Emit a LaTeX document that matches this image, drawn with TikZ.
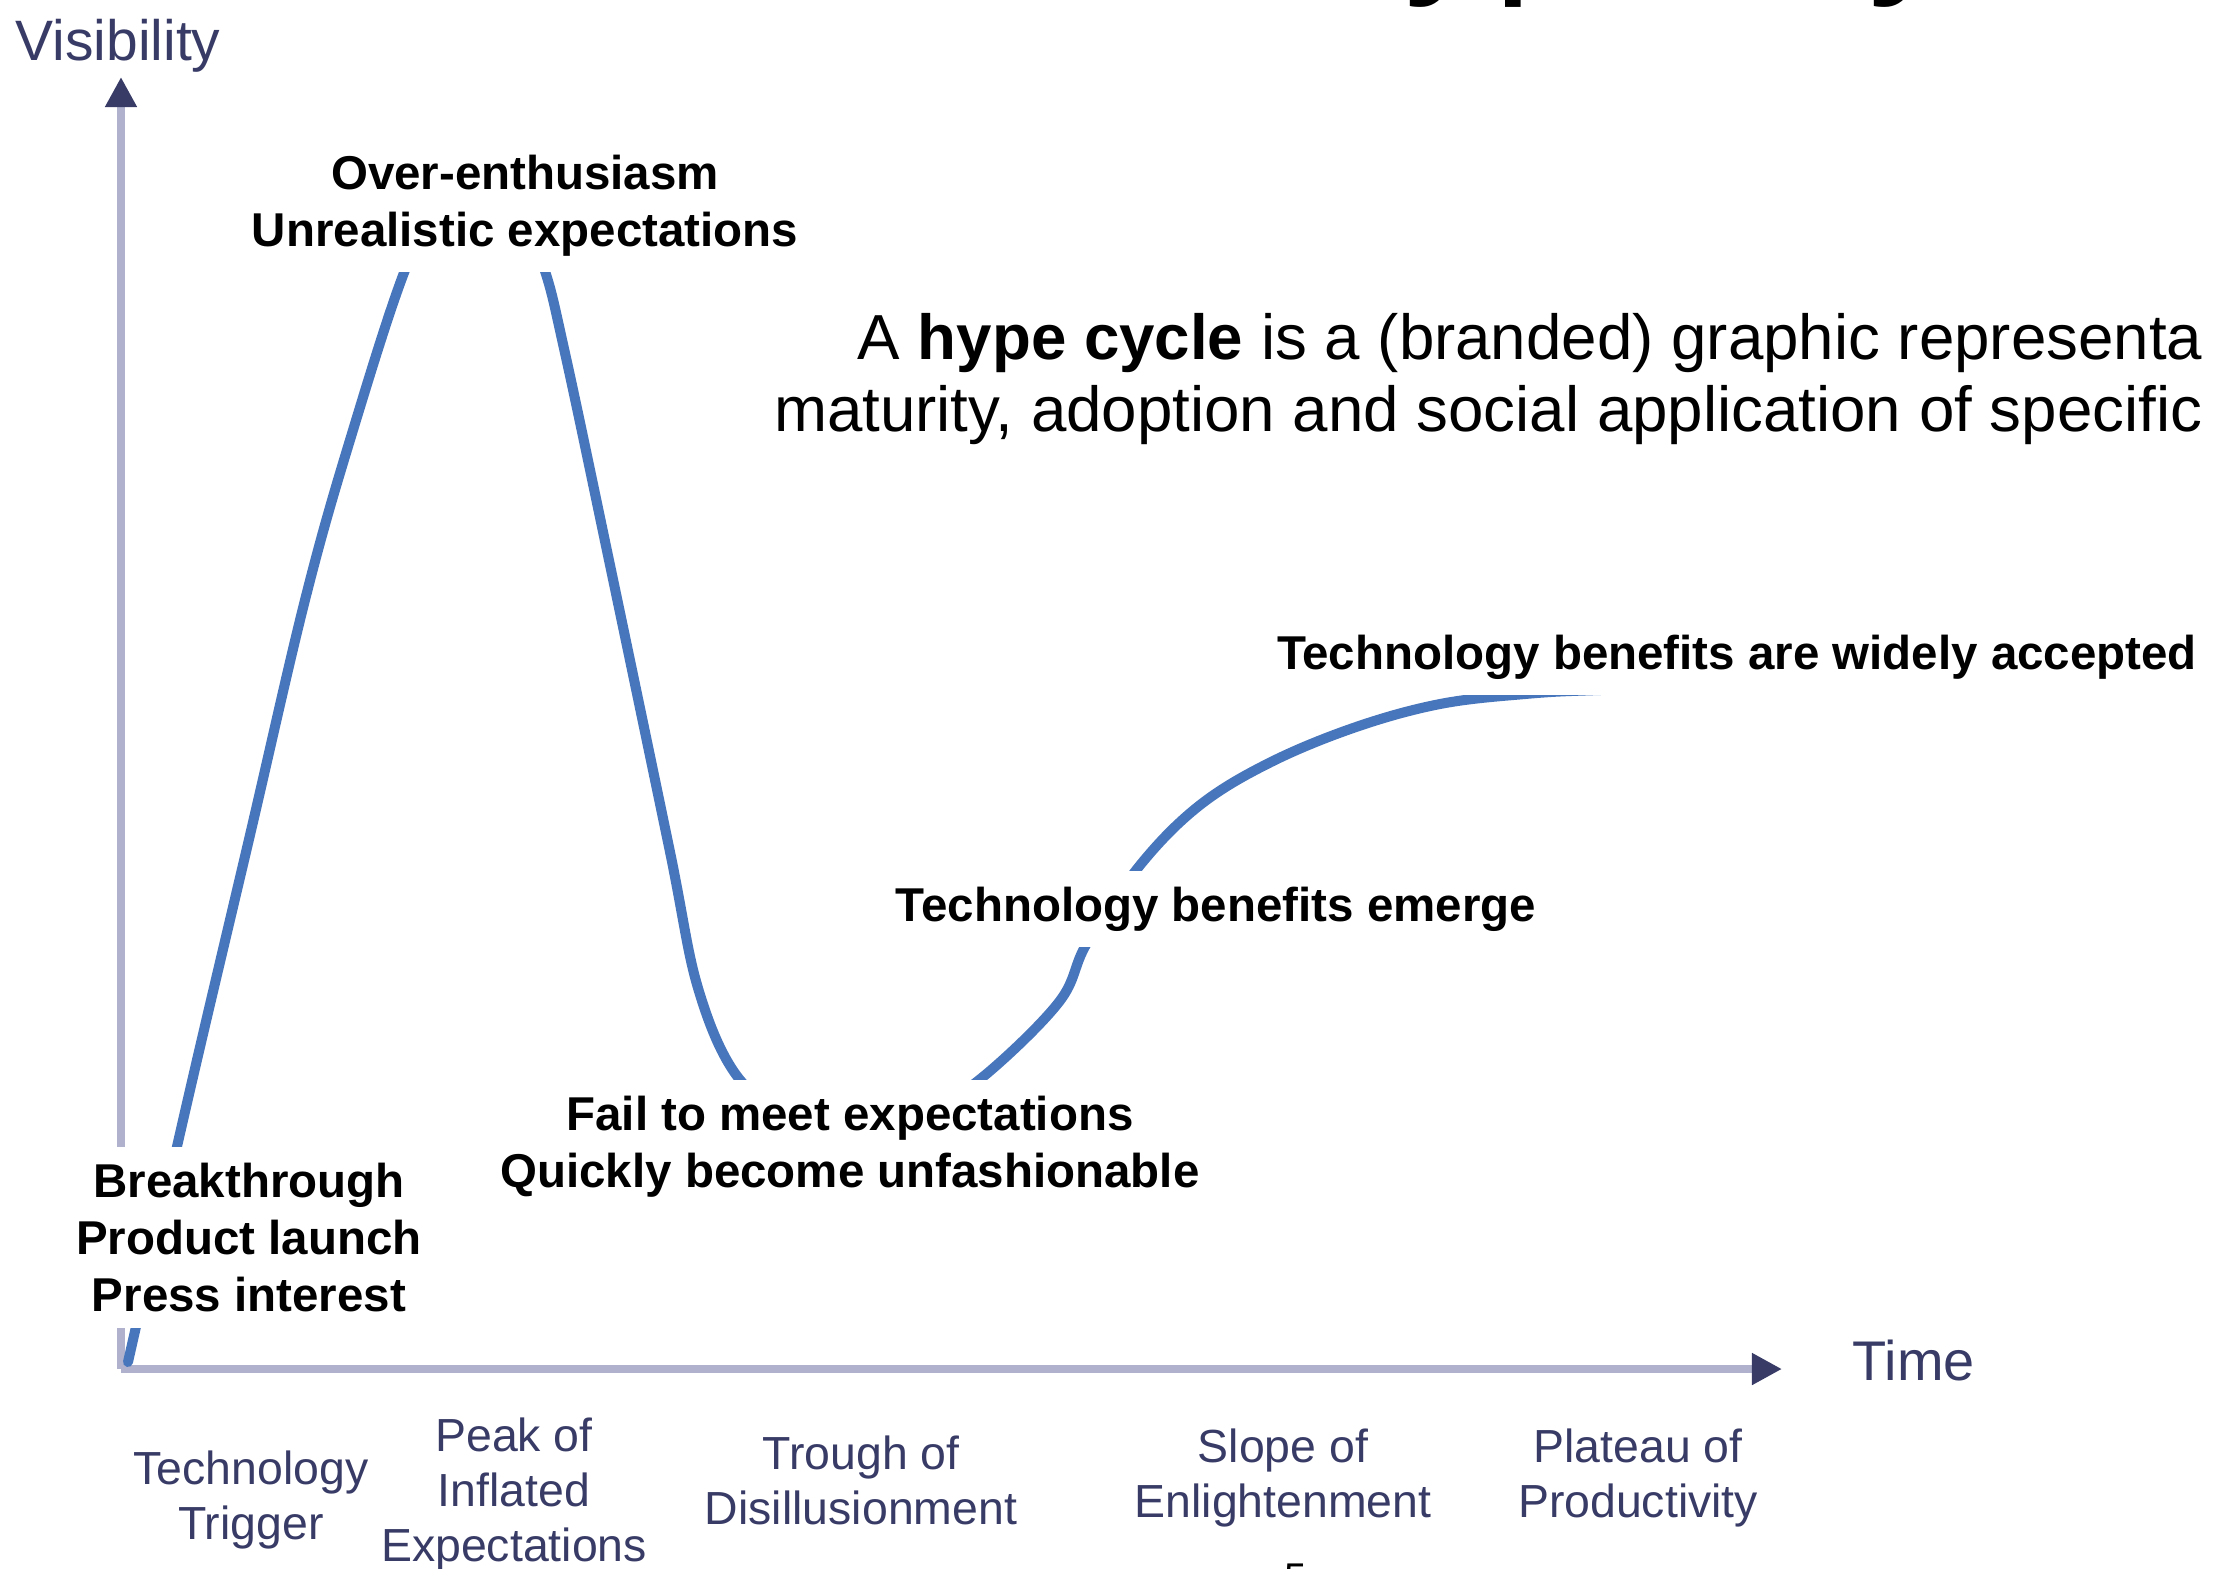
\documentclass[tikz,border=0pt]{standalone}
\usepackage{fontspec}
\setmainfont{Liberation Sans}
\usetikzlibrary{arrows.meta}

\definecolor{hypeblue}{RGB}{72,118,188}
\definecolor{axisgray}{RGB}{176,178,205}
\definecolor{axisnavy}{RGB}{56,59,102}

\begin{document}
\begin{tikzpicture}[x=0.01cm, y=-0.01cm,
    note/.style={fill=white, align=center, anchor=north, inner xsep=0.1cm, inner ysep=0.16cm,
        font=\fontsize{13.5pt}{16.2pt}\selectfont\bfseries},
    phase/.style={text=axisnavy, align=center, anchor=north, inner sep=0,
        font=\fontsize{13.2pt}{15.6pt}\selectfont},
    axis/.style={draw=axisgray, line width=0.08cm},
    axistip/.style={-{Triangle[length=0.3cm, width=0.3cm, color=axisnavy]}}]
                \useasboundingbox (0,0) rectangle (2214,1568);
                \clip (0,0) rectangle (2214,1568);
                % axes
                \coordinate (origin) at (121,1369);
                \coordinate (visTip) at (121,77);
                \coordinate (timeTip) at (1782,1369);
                \draw[axis, axistip] (origin) -- (visTip);
                \draw[axis, axistip] (origin) -- (timeTip);
                \node[anchor=base, inner sep=0, text=axisnavy, font=\fontsize{16.2pt}{19pt}\selectfont] (visLbl) at (118,60) {Visibility};
                \node[anchor=base west, inner sep=0, text=axisnavy, font=\fontsize{15.9pt}{19pt}\selectfont] (timeLbl) at (1852,1380) {Time};
                % the hype curve
                \draw[hypeblue, line width=0.1cm, line cap=round] plot[smooth, tension=0.6] coordinates {
                    (128,1362) (190,1090) (250,835) (305,600) (350,440) (407,265) (450,190) (480,170) (510,190)
                    (543,265) (565,353) (610,565) (669,847) (698,988) (737,1076) (790,1112) (860,1122) (930,1108)
                    (984,1076) (1059,1002) (1087,943) (1141,864) (1200,805) (1271,762) (1356,727) (1440,704)
                    (1525,694) (1600,690) (1750,687)};
                % notes along the curve
                \node[note] (trigNote) at (249,1146) {Breakthrough\\Product launch\\Press interest};
                \node[note] (peakNote) at (525,138) {Over-enthusiasm\\Unrealistic expectations};
                \node[note] (troughNote) at (850,1079) {Fail to meet expectations\\Quickly become unfashionable};
                \node[note] (slopeNote) at (1216,870) {Technology benefits emerge};
                \node[note] (plateauNote) at (1737,618) {Technology benefits are widely accepted};
                % phases under the time axis
                \node[phase] (trigPhase) at (251,1450) {Technology\\Trigger};
                \node[phase] (peakPhase) at (514,1417) {Peak of\\Inflated\\Expectations};
                \node[phase] (troughPhase) at (861,1435) {Trough of\\Disillusionment};
                \node[phase] (slopePhase) at (1283,1428) {Slope of\\Enlightenment};
                \node[phase] (plateauPhase) at (1638,1428) {Plateau of\\Productivity};
                % slide text
                \node[anchor=base west, inner sep=0, font=\fontsize{50.6pt}{60pt}\selectfont] (title) at (1275,-30) {Hype Cycle};
                \node[anchor=north east, align=right, inner sep=0, font=\fontsize{18.1pt}{20.5pt}\selectfont] (defn) at (2203,313)
                    {A \textbf{hype cycle} is a (branded) graphic representa\\maturity, adoption and social application of specific};
                \node[anchor=base west, inner sep=0, font=\fontsize{11.4pt}{13pt}\selectfont] (pageNo) at (1284,1591) {5};
\end{tikzpicture}
\end{document}
